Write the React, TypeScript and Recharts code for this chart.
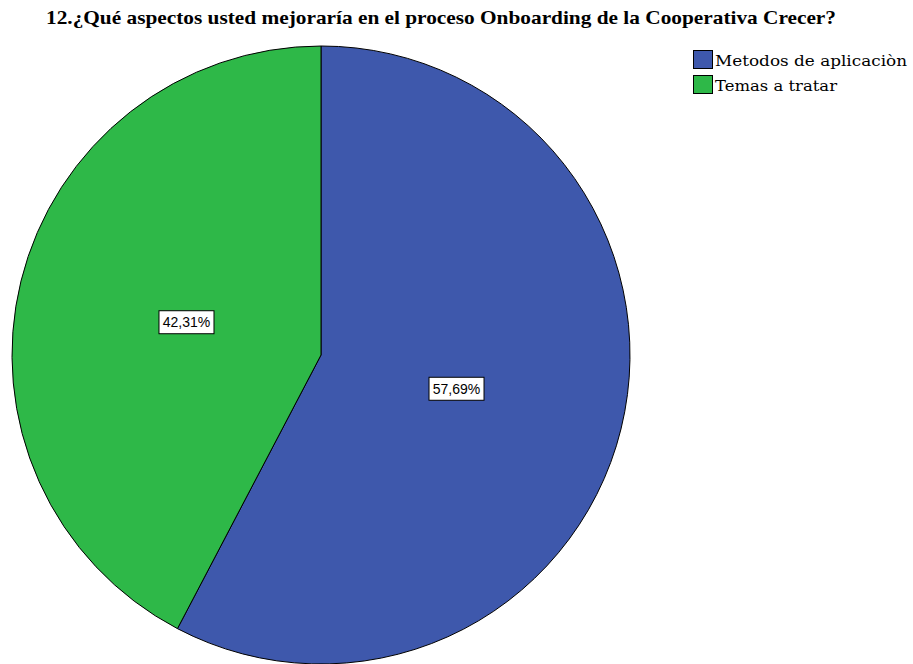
import { PieChart, Pie, Cell } from "recharts"

const categories = ["Metodos de aplicaciòn", "Temas a tratar"]
const percents = [57.69, 42.31]
const colors = ["#3E58AC", "#2EB848"]

const data = categories.map((name, i) => ({ name, value: percents[i] }))

const RADIAN = Math.PI / 180

const renderLabel = (props: any) => {
    const { cx, cy, midAngle, outerRadius, value } = props
    const r = outerRadius * 0.45
    const x = cx + r * Math.cos(-midAngle * RADIAN)
    const y = cy + r * Math.sin(-midAngle * RADIAN)
    const text = value.toFixed(2).replace(".", ",") + "%"
    return (
        <g>
            <rect x={x - 27} y={y - 11} width={55} height={23} fill="#fff" stroke="#000" strokeWidth={1} />
            <text x={x + 0.5} y={y + 5.5} textAnchor="middle" fontFamily="Liberation Sans, Arial" fontSize={14} fill="#000">
                {text}
            </text>
        </g>
    )
}

export default function App() {
    return (
        <div style={{ position: "absolute", left: 0, top: 0, width: 913, height: 664, background: "#fff" }}>
            <PieChart width={913} height={664} margin={{ top: 0, right: 0, bottom: 0, left: 0 }}>
                <text x={46} y={24} fontFamily="Liberation Serif, Times New Roman" fontWeight="bold" fontSize={19} textLength={790} lengthAdjust="spacingAndGlyphs" fill="#000">
                    12.¿Qué aspectos usted mejoraría en el proceso Onboarding de la Cooperativa Crecer?
                </text>
                <Pie
                    data={data}
                    dataKey="value"
                    nameKey="name"
                    cx={321}
                    cy={355}
                    outerRadius={309}
                    startAngle={90}
                    endAngle={-270}
                    stroke="#000"
                    strokeWidth={1}
                    label={renderLabel}
                    labelLine={false}
                    isAnimationActive={false}
                >
                    {data.map((d, i) => (
                        <Cell key={d.name} fill={colors[i]} />
                    ))}
                </Pie>
                {categories.map((c, i) => (
                    <g key={c}>
                        <rect x={693.5} y={50.5 + i * 25} width={19} height={18} fill={colors[i]} stroke="#000" strokeWidth={1} />
                        <text x={715} y={66 + i * 25} fontFamily="DejaVu Serif" fontSize={15} textLength={i === 0 ? 192 : 122} lengthAdjust="spacingAndGlyphs" fill="#000">
                            {c}
                        </text>
                    </g>
                ))}
            </PieChart>
        </div>
    )
}
